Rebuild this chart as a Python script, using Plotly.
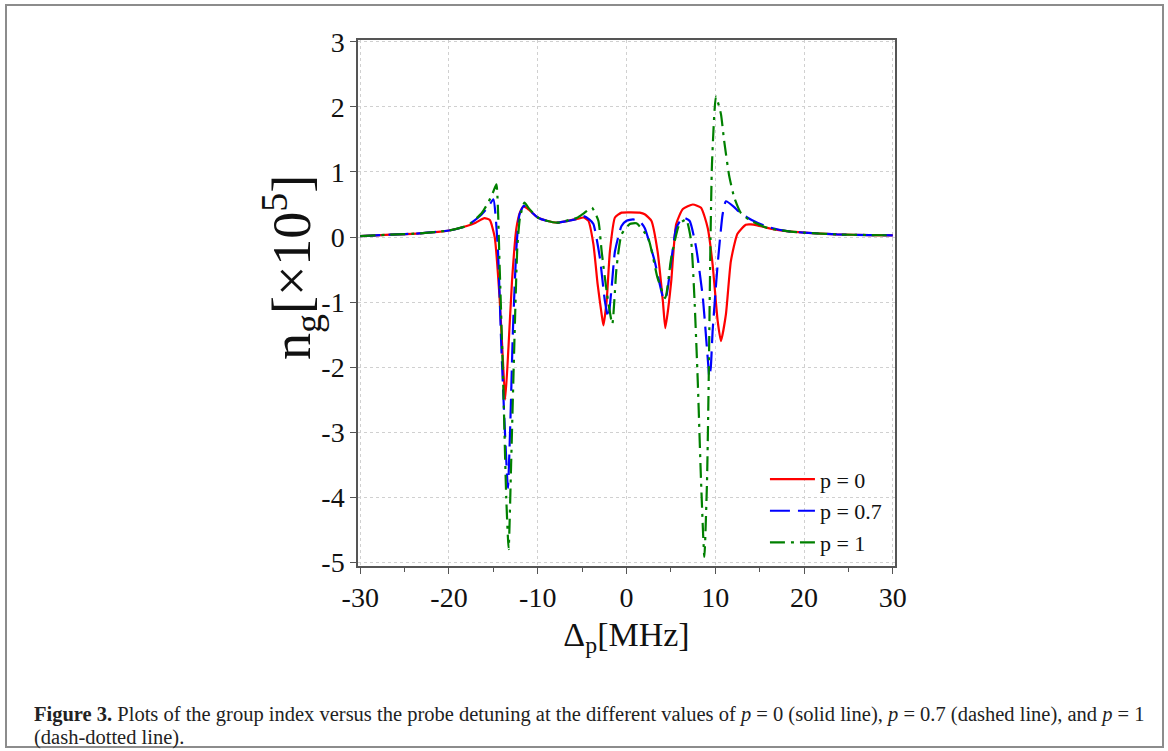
import plotly.graph_objects as go

# ---- data (Δp in MHz, n_g in units of 1e5) ----
x_p0 = [-30, -26.6, -23.3, -20, -18, -17, -16, -15.4, -14.85, -14.3, -14.0, -13.66, -13.3, -12.9,
        -12.4, -12.0, -11.6, -11.0, -10, -9, -7.8, -6.5, -5.5, -4.85, -4.3, -3.73, -3.25, -2.8,
        -2.6, -2.24, -1.87, -1.3, -0.56, 0.5, 1.5, 2.05, 2.8, 3.5, 4.1, 4.37, 4.7, 5.04, 5.6,
        6.35, 7.47, 8.4, 9.15, 9.7, 10.27, 10.64, 11.2, 11.76, 12.5, 13.44, 14.0, 14.74, 15.86,
        17, 18, 20, 23.7, 27.4, 30]
y_p0 = [0.015, 0.036, 0.056, 0.10, 0.17, 0.22, 0.29, 0.26, 0.0, -0.93, -1.7, -2.5, -1.7, -0.68,
        0.14, 0.38, 0.47, 0.42, 0.30, 0.25, 0.22, 0.25, 0.28, 0.30, 0.25, -0.11, -0.73, -1.19,
        -1.36, -0.99, -0.22, 0.30, 0.375, 0.38, 0.375, 0.35, 0.25, -0.22, -0.99, -1.40, -1.1, -0.68, 0.2,
        0.43, 0.50, 0.45, 0.14, -0.42, -1.29, -1.60, -1.19, -0.37, 0.05, 0.19, 0.195, 0.18, 0.14,
        0.11, 0.09, 0.067, 0.04, 0.03, 0.026]

x_p07 = [-30, -26.6, -23.3, -20, -18, -17.46, -16.3, -15.5, -15.0, -14.5, -14.1, -13.7, -13.36,
         -13.06, -12.8, -12.4, -12.05, -11.57, -11.0, -10, -9, -7.8, -6.5, -5.5, -4.85, -4.2,
         -3.73, -3.0, -2.43, -2.05, -1.68, -1.3, -0.56, 0.0, 0.75, 1.5, 2.05, 3.17, 3.7, 4.2,
         4.5, 5.04, 5.6, 6.35, 7.1, 7.84, 8.6, 9.0, 9.2, 9.33, 9.5, 9.7, 10.27, 10.83, 11.2, 12.13, 12.5,
         13.6, 14.74, 16.2, 18.1, 20, 23.7, 27.4, 30]
y_p07 = [0.015, 0.036, 0.056, 0.10, 0.17, 0.22, 0.35, 0.48, 0.58, -0.16, -1.7, -2.98, -3.86,
         -2.73, -1.45, -0.16, 0.35, 0.48, 0.42, 0.30, 0.25, 0.22, 0.25, 0.28, 0.32, 0.27,
         0.2, -0.32, -0.99, -1.24, -0.78, -0.22, 0.17, 0.25, 0.27, 0.24, 0.14, -0.37, -0.70, -0.96,
         -0.9, -0.37, 0.14, 0.30, 0.25, -0.16, -0.93, -1.6, -1.95, -2.15, -2.0, -1.45, -0.42, 0.35, 0.55, 0.46, 0.41,
         0.30, 0.22, 0.144, 0.09, 0.067, 0.04, 0.03, 0.026]

x_p1 = [-30, -26.6, -23.3, -20, -18, -17.46, -16.3, -15.5, -15.0, -14.66, -14.3, -13.9, -13.55,
        -13.28, -13.0, -12.7, -12.3, -12.0, -11.5, -11.0, -10, -9, -7.8, -6.5, -5.5, -4.85, -3.9,
        -3.17, -2.8, -2.24, -1.6, -1.12, -0.56, 0.37, 1.12, 2.43, 3.5, 4.37, 5.04, 5.97, 6.72,
        7.28, 7.65, 8.03, 8.4, 8.77, 9.07, 9.26, 9.45, 9.63, 10.08, 10.64, 11.0, 11.57, 12.13,
        12.88, 14.0, 15.86, 18.1, 20, 23.7, 27.4, 30]
y_p1 = [0.015, 0.036, 0.056, 0.10, 0.17, 0.22, 0.37, 0.55, 0.70, 0.81, -0.42, -2.2, -4.0,
        -4.8, -3.5, -1.96, -0.16, 0.30, 0.53, 0.44, 0.30, 0.25, 0.22, 0.26, 0.30, 0.36, 0.45,
        0.25, -0.22, -0.83, -1.34, -0.47, 0.04, 0.20, 0.21, -0.01, -0.63, -0.94, -0.32, 0.2, 0.27,
        -0.06, -0.93, -2.22, -3.76, -4.92, -3.76, -2.22, -0.16, 1.12, 2.16, 1.89, 1.48, 0.94, 0.61,
        0.37, 0.25, 0.14, 0.09, 0.067, 0.04, 0.03, 0.026]

names = ["p = 0", "p = 0.7", "p = 1"]
x_ticks = [-30, -20, -10, 0, 10, 20, 30]
y_ticks = [-5, -4, -3, -2, -1, 0, 1, 2, 3]

SERIF = "Liberation Serif, Times New Roman, serif"

fig = go.Figure()
series = [(x_p0, y_p0, names[0], "#ff0000", "solid"),
          (x_p07, y_p07, names[1], "#0000ff", "20px,8px"),
          (x_p1, y_p1, names[2], "#008000", "15px,6px,3px,6px")]
for xs, ys, nm, col, dash in series:
    fig.add_trace(go.Scatter(x=xs, y=ys, name=nm, mode="lines",
                             line=dict(color=col, width=2.2, dash=dash, shape="spline", smoothing=0.5)))

W, H = 1168, 751
L, R, T, B = 358, 895, 40, 566   # plot area in pixels


def px(xp):
    return (xp - L) / (R - L)


def py(yp):
    return (B - yp) / (B - T)


axis_common = dict(showline=True, linecolor="#555555", linewidth=1.5, mirror=True,
                   ticks="outside", ticklen=6, tickcolor="#555555", tickwidth=1.2,
                   showgrid=True, gridcolor="#d0d0d0", griddash="dot", gridwidth=1,
                   zeroline=False, tickfont=dict(family=SERIF, size=28, color="#111111"))

fig.update_layout(
    width=W, height=H,
    margin=dict(l=L, r=W - R, t=T, b=H - B),
    paper_bgcolor="white", plot_bgcolor="white",
    xaxis=dict(range=[-30.25, 30.25], tickvals=x_ticks, ticktext=[str(v) for v in x_ticks],
               minor=dict(dtick=5, tick0=0, ticks="outside", ticklen=4, tickcolor="#555555", showgrid=False),
               title=dict(text="Δ<sub>p</sub>[MHz]", font=dict(family=SERIF, size=34, color="#111111"),
                          standoff=10),
               **axis_common),
    yaxis=dict(range=[-5.06, 3.03], tickvals=y_ticks, ticktext=[str(v) for v in y_ticks],
               **axis_common),
    legend=dict(x=0.985, y=0.005, xanchor="right", yanchor="bottom", bgcolor="rgba(0,0,0,0)",
                font=dict(family=SERIF, size=22, color="#111111"), tracegroupgap=0, itemwidth=45),
    showlegend=True,
)

# y-axis title (placed as an annotation so it sits where the reference has it)
fig.add_annotation(xref="paper", yref="paper", x=px(291), y=py(268), xanchor="center", yanchor="middle",
                   textangle=-90, showarrow=False, text="n<sub>g</sub>[×10<sup>5</sup>]",
                   font=dict(family=SERIF, size=54, color="#111111"))

# outer figure frame
fig.add_shape(type="rect", xref="paper", yref="paper",
              x0=px(6), x1=px(1163), y0=py(747), y1=py(5),
              line=dict(color="#8c8c8c", width=2), fillcolor="rgba(0,0,0,0)", layer="below")

cap1 = ("<b>Figure 3.</b> Plots of the group index versus the probe detuning at the different values of "
        "<i>p</i> = 0 (solid line), <i>p</i> = 0.7 (dashed line), and <i>p</i> = 1")
cap2 = "(dash-dotted line)."
for txt, yy in [(cap1, 714), (cap2, 737)]:
    fig.add_annotation(xref="paper", yref="paper", x=px(32), y=py(yy), xanchor="left", yanchor="middle",
                       align="left", showarrow=False, text=txt,
                       font=dict(family=SERIF, size=20.5, color="#222222"))

fig.write_html("out.html", config={"displayModeBar": False},
               post_script="document.body.style.margin='0';document.documentElement.style.overflow='hidden';")
